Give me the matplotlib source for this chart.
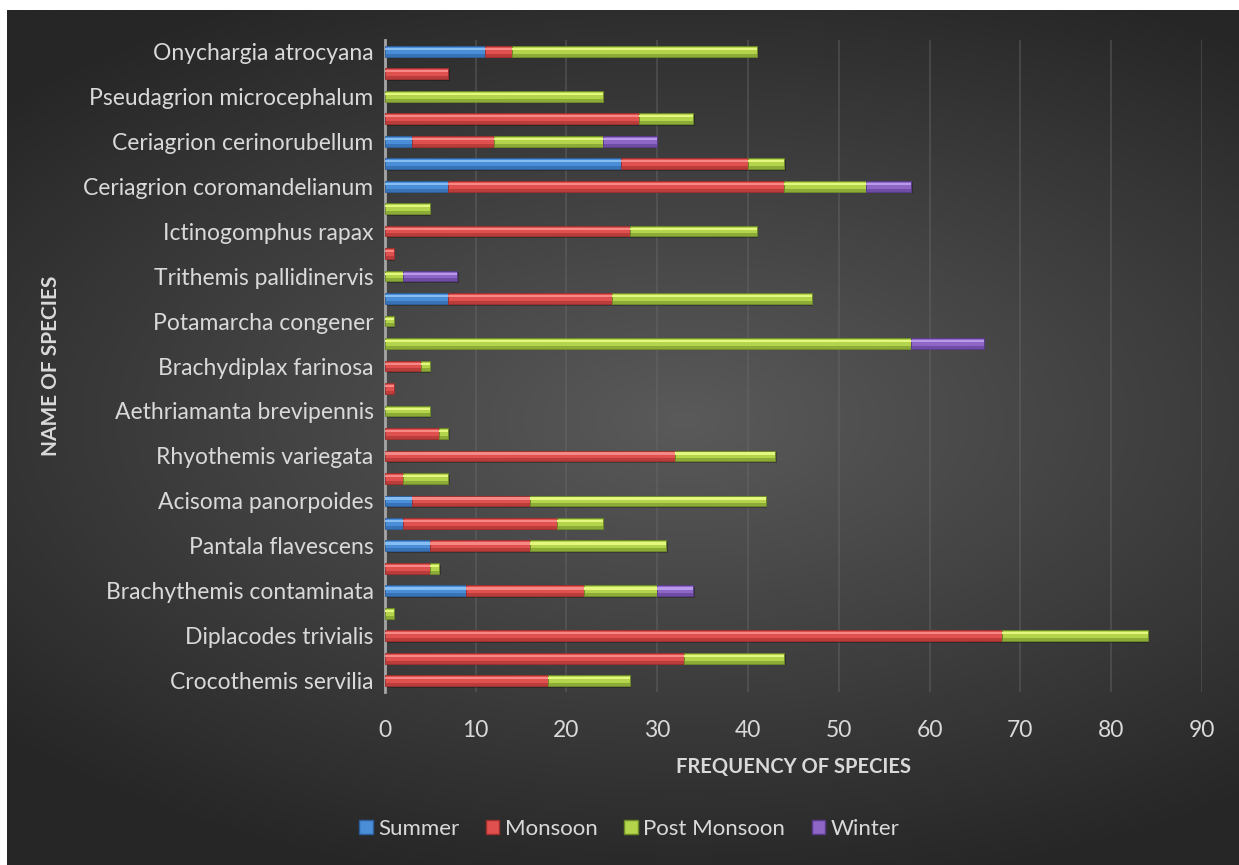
import numpy as np
import matplotlib
matplotlib.use("Agg")
import matplotlib.pyplot as plt
from matplotlib.patches import Patch

# rows listed bottom to top; only every other row carries a visible name
species = ["Crocothemis servilia", "", "Diplacodes trivialis", "",
           "Brachythemis contaminata", "", "Pantala flavescens", "",
           "Acisoma panorpoides", "", "Rhyothemis variegata", "",
           "Aethriamanta brevipennis", "", "Brachydiplax farinosa", "",
           "Potamarcha congener", "", "Trithemis pallidinervis", "",
           "Ictinogomphus rapax", "", "Ceriagrion coromandelianum", "",
           "Ceriagrion cerinorubellum", "", "Pseudagrion microcephalum", "",
           "Onychargia atrocyana"]

summer       = [0, 0, 0, 0, 9, 0, 5, 2, 3, 0, 0, 0, 0, 0, 0, 0, 0, 7, 0, 0, 0, 0, 7, 26, 3, 0, 0, 0, 11]
monsoon      = [18, 33, 68, 0, 13, 5, 11, 17, 13, 2, 32, 6, 0, 1, 4, 0, 0, 18, 0, 1, 27, 0, 37, 14, 9, 28, 0, 7, 3]
post_monsoon = [9, 11, 16, 1, 8, 1, 15, 5, 26, 5, 11, 1, 5, 0, 1, 58, 1, 22, 2, 0, 14, 5, 9, 4, 12, 6, 24, 0, 27]
winter       = [0, 0, 0, 0, 4, 0, 0, 0, 0, 0, 0, 0, 0, 0, 0, 8, 0, 0, 6, 0, 0, 0, 5, 0, 6, 0, 0, 0, 0]

seasons = ["Summer", "Monsoon", "Post Monsoon", "Winter"]
series = [summer, monsoon, post_monsoon, winter]
xticks = list(range(0, 91, 10))

# base, highlight, shade for each season
palette = [("#4a8ed8", "#86bdf2", "#2c5e9c"),
           ("#e0504e", "#f68886", "#9e2e2c"),
           ("#b4d44c", "#e4f77e", "#6c8a26"),
           ("#8d66c6", "#b99aea", "#58398a")]

txt = "#d9d9d9"
plt.rcParams["font.family"] = ["Lato", "DejaVu Sans"]

W, H = 1239, 865
fig = plt.figure(figsize=(W / 100, H / 100), dpi=100)
fig.patch.set_facecolor("white")

# dark radial backdrop
bg = fig.add_axes([7 / W, 0, 1 - 7 / W, 1 - 10 / H], zorder=-10)
gx, gy = np.meshgrid(np.linspace(0, 1, 400), np.linspace(0, 1, 300))
r = np.sqrt(((gx - 0.55) / 1.0) ** 2 + ((gy - 0.52) / 0.75) ** 2)
r = np.clip(r / 0.75, 0, 1)
shade = 0x5a / 255 * (1 - r) + 0x26 / 255 * r
bg.imshow(np.dstack([shade] * 3), aspect="auto", extent=[0, 1, 0, 1], origin="lower")
bg.set_axis_off()

x0, x1 = 384.7, 1202
yt, yb = 40, 692
ax = fig.add_axes([x0 / W, 1 - yb / H, (x1 - x0) / W, (yb - yt) / H])
ax.set_facecolor("none")

y = np.arange(len(species))
h = 0.48
left = np.zeros(len(species))
for vals, (base, hi, lo) in zip(series, palette):
    vals = np.array(vals, dtype=float)
    m = vals > 0
    # soft drop shadow
    ax.barh(y[m] - 0.07, vals[m], height=h, left=left[m] + 0.15,
            color="black", alpha=0.25, linewidth=0, zorder=2)
    ax.barh(y[m], vals[m], height=h, left=left[m], color=base,
            edgecolor=lo, linewidth=0.6, zorder=3)
    ax.barh(y[m] + h * 0.22, vals[m], height=h * 0.2, left=left[m],
            color=hi, linewidth=0, zorder=4)
    ax.barh(y[m] - h * 0.36, vals[m], height=h * 0.28, left=left[m],
            color=lo, alpha=0.55, linewidth=0, zorder=4)
    left += vals

ax.set_xlim(0, 90)
ax.set_ylim(-0.5, len(species) - 0.5)
ax.set_xticks(xticks)
ax.set_yticks(y)
ax.set_yticklabels(species)
ax.tick_params(axis="both", length=0, colors=txt, labelsize=16.5)
ax.tick_params(axis="x", pad=20)
ax.tick_params(axis="y", pad=8)
ax.grid(axis="x", color="#6a6a6a", linewidth=1.5, alpha=0.4, zorder=0)
ax.set_axisbelow(True)
for s in ["top", "right", "bottom"]:
    ax.spines[s].set_visible(False)
ax.spines["left"].set_color("#a6a6a6")
ax.spines["left"].set_linewidth(2)

ax.set_xlabel("FREQUENCY OF SPECIES", color=txt, fontsize=14.5, fontweight="bold", labelpad=12)
ax.set_ylabel("NAME OF SPECIES", color=txt, fontsize=15, fontweight="bold", labelpad=16)

handles = [Patch(facecolor=p[0], edgecolor=p[2], label=s) for s, p in zip(seasons, palette)]
fig.legend(handles=handles, loc="center", bbox_to_anchor=(0.508, 1 - 829 / H), ncol=4,
           frameon=False, fontsize=16, labelcolor=txt, handlelength=0.6, handleheight=0.6,
           handletextpad=0.25, columnspacing=1.2)

fig.savefig("out.png", dpi=100)
